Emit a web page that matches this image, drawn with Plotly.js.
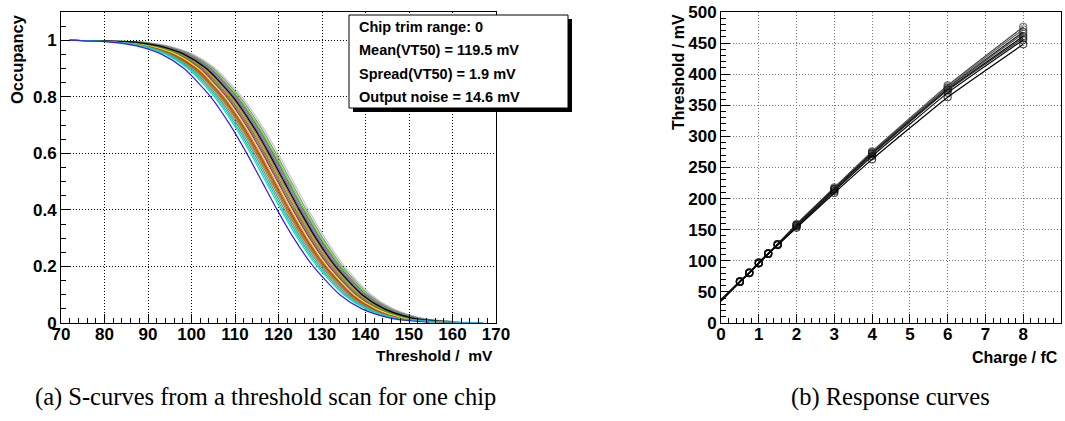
<!DOCTYPE html>
<html><head><meta charset="utf-8">
<script src="https://cdn.plot.ly/plotly-3.0.1.min.js"></script>
<style>html,body{margin:0;padding:0;background:#fff}#chart{width:1065px;height:421px}</style>
</head><body><div id="chart"></div>
<script>
// ---------- (a) S-curves: occupancy levels and threshold (mV) at which each channel reaches them ----------
const occLevels = [1, 0.995, 0.99, 0.98, 0.95, 0.9, 0.8, 0.7, 0.6, 0.5, 0.4, 0.3, 0.2, 0.1, 0.05, 0.02, 0.01, 0.003];
const chBlue    = [72, 80.1, 83.6, 87.4, 93.2, 98.3, 104.4, 108.9, 112.7, 116.2, 119.7, 123.5, 128.0, 134.1, 139.2, 145.0, 148.8, 154.7];
const chAqua    = [72, 81.0, 84.5, 88.3, 94.1, 99.2, 105.3, 109.8, 113.6, 117.1, 120.6, 124.4, 128.9, 135.0, 140.1, 145.9, 149.7, 155.6];
const chCyan    = [72, 81.4, 84.9, 88.7, 94.5, 99.6, 105.7, 110.2, 114.0, 117.5, 121.0, 124.8, 129.3, 135.4, 140.5, 146.3, 150.1, 156.0];
const chGrey1   = [72, 81.8, 85.3, 89.1, 94.9, 100.0, 106.1, 110.6, 114.4, 117.9, 121.4, 125.2, 129.7, 135.8, 140.9, 146.7, 150.5, 156.4];
const chBrown1  = [72, 82.2, 85.7, 89.5, 95.3, 100.4, 106.5, 111.0, 114.8, 118.3, 121.8, 125.6, 130.1, 136.2, 141.3, 147.1, 150.9, 156.8];
const chOlive   = [72, 82.5, 86.0, 89.8, 95.6, 100.7, 106.8, 111.3, 115.1, 118.6, 122.1, 125.9, 130.4, 136.5, 141.6, 147.4, 151.2, 157.1];
const chRed     = [72, 82.8, 86.3, 90.1, 95.9, 101.0, 107.1, 111.6, 115.4, 118.9, 122.4, 126.2, 130.7, 136.8, 141.9, 147.7, 151.5, 157.4];
const chGrey2   = [72, 83.1, 86.6, 90.4, 96.2, 101.3, 107.4, 111.9, 115.7, 119.2, 122.7, 126.5, 131.0, 137.1, 142.2, 148.0, 151.8, 157.7];
const chYellow  = [72, 83.4, 86.9, 90.7, 96.5, 101.6, 107.7, 112.2, 116.0, 119.5, 123.0, 126.8, 131.3, 137.4, 142.5, 148.3, 152.1, 158.0];
const chMagenta = [72, 83.7, 87.2, 91.0, 96.8, 101.9, 108.0, 112.5, 116.3, 119.8, 123.3, 127.1, 131.6, 137.7, 142.8, 148.6, 152.4, 158.3];
const chBrown2  = [72, 84.0, 87.5, 91.3, 97.1, 102.2, 108.3, 112.8, 116.6, 120.1, 123.6, 127.4, 131.9, 138.0, 143.1, 148.9, 152.7, 158.6];
const chGreen   = [72, 84.3, 87.8, 91.6, 97.4, 102.5, 108.6, 113.1, 116.9, 120.4, 123.9, 127.7, 132.2, 138.3, 143.4, 149.2, 153.0, 158.9];
const chOrange  = [72, 84.6, 88.1, 91.9, 97.7, 102.8, 108.9, 113.4, 117.2, 120.7, 124.2, 128.0, 132.5, 138.6, 143.7, 149.5, 153.3, 159.2];
const chBrown3  = [72, 84.9, 88.4, 92.2, 98.0, 103.1, 109.2, 113.7, 117.5, 121.0, 124.5, 128.3, 132.8, 138.9, 144.0, 149.8, 153.6, 159.5];
const chBlack   = [72, 85.2, 88.7, 92.5, 98.3, 103.4, 109.5, 114.0, 117.8, 121.3, 124.8, 128.6, 133.1, 139.2, 144.3, 150.1, 153.9, 159.8];
const chPurple  = [72, 85.5, 89.0, 92.8, 98.6, 103.7, 109.8, 114.3, 118.1, 121.6, 125.1, 128.9, 133.4, 139.5, 144.6, 150.4, 154.2, 160.1];
const chGrey3   = [72, 85.8, 89.3, 93.1, 98.9, 104.0, 110.1, 114.6, 118.4, 121.9, 125.4, 129.2, 133.7, 139.8, 144.9, 150.7, 154.5, 160.4];
const chBrown4  = [72, 86.1, 89.6, 93.4, 99.2, 104.3, 110.4, 114.9, 118.7, 122.2, 125.7, 129.5, 134.0, 140.1, 145.2, 151.0, 154.8, 160.7];
const chLime    = [72, 86.4, 89.9, 93.7, 99.5, 104.6, 110.7, 115.2, 119.0, 122.5, 126.0, 129.8, 134.3, 140.4, 145.5, 151.3, 155.1, 161.0];
const chGrey4   = [72, 86.8, 90.3, 94.1, 99.9, 105.0, 111.1, 115.6, 119.4, 122.9, 126.4, 130.2, 134.7, 140.8, 145.9, 151.7, 155.5, 161.4];
const chGrey5   = [72, 87.3, 90.8, 94.6, 100.4, 105.5, 111.6, 116.1, 119.9, 123.4, 126.9, 130.7, 135.2, 141.3, 146.4, 152.2, 156.0, 161.9];
const sCurves = [
  [chGrey5, '#c8c8c8'], [chLime, '#33ff00'], [chGrey4, '#8f8f8f'], [chBrown4, '#7d6b5a'], [chGrey3, '#898989'],
  [chPurple, '#6a5acd'], [chBrown3, '#8e7560'], [chOrange, '#ff8c00'], [chBrown2, '#8a7a66'],
  [chGrey2, '#7f7f7f'], [chBrown1, '#9b7f62'], [chOlive, '#8b8b00'], [chGrey1, '#878778'],
  [chMagenta, '#c000c0'], [chRed, '#e03000'], [chYellow, '#e6e600'], [chGreen, '#3da03d'],
  [chBlack, '#000000'], [chCyan, '#00c8d0'], [chAqua, '#00e6a8'], [chBlue, '#3c14ff']
];
const tailX = [150, 155, 160, 167];
const tailY = [0.012, 0.006, 0.003, 0.0005];
const occTicks = [0, 0.2, 0.4, 0.6, 0.8, 1];
const occTickText = ['0', '0.2', '0.4', '0.6', '0.8', '1'];
const thrTicks = [70, 80, 90, 100, 110, 120, 130, 140, 150, 160, 170];

// ---------- (b) response curves ----------
const charge = [0, 0.5, 0.75, 1, 1.25, 1.5, 2, 3, 4, 6, 8];
const resp1 = [38, 67, 81, 97, 112, 127, 159, 218, 276, 382, 476];
const resp2 = [38, 67, 81, 97, 112, 127, 158, 217, 275, 380, 472];
const resp3 = [37, 67, 81, 97, 112, 127, 158, 216, 274, 378, 468];
const resp4 = [37, 67, 81, 97, 112, 126, 157, 215, 273, 377, 465];
const resp5 = [37, 67, 81, 97, 112, 126, 157, 215, 272, 375, 461];
const resp6 = [36, 66, 81, 96, 111, 126, 156, 214, 271, 374, 458];
const resp7 = [36, 66, 80, 96, 111, 126, 155, 212, 268, 370, 455];
const resp8 = [35, 66, 80, 96, 111, 125, 153, 209, 263, 363, 448];
const respCurves = [[resp1,'#444444'],[resp2,'#666666'],[resp3,'#222222'],[resp4,'#555555'],
                    [resp5,'#000000'],[resp6,'#333333'],[resp7,'#111111'],[resp8,'#000000']];
const chargeTicks = [0, 1, 2, 3, 4, 5, 6, 7, 8, 9];
const mvTicks = [0, 50, 100, 150, 200, 250, 300, 350, 400, 450, 500];

const W = 1065, H = 421;
const px = v => v / W, py = v => 1 - v / H;
const bold = (size) => ({family: 'Liberation Sans, Arial, sans-serif', size: size, color: '#000', weight: 700});
const bt = arr => arr.map(v => '<b>' + v + '</b>');

const traces = [];
sCurves.forEach(([xs, col]) => traces.push({
  x: xs, y: occLevels, type: 'scatter', mode: 'lines', xaxis: 'x', yaxis: 'y',
  line: {color: col, width: 1.2, shape: 'spline', smoothing: 0.7}, hoverinfo: 'skip'
}));
traces.push({x: tailX, y: tailY, type: 'scatter', mode: 'lines', xaxis: 'x', yaxis: 'y',
  line: {color: '#19b4e6', width: 1.5, shape: 'spline'}, hoverinfo: 'skip'});
respCurves.forEach(([ys, col]) => traces.push({
  x: charge, y: ys, type: 'scatter', mode: 'lines+markers', xaxis: 'x2', yaxis: 'y2',
  line: {color: col, width: 1.2, shape: 'spline', smoothing: 0.4},
  marker: {symbol: 'circle-open', size: charge.map(c => c === 0 ? 0 : 7), color: col, line: {width: 1.2, color: col}},
  hoverinfo: 'skip'
}));

const axBase = {
  ticks: 'inside', tickcolor: '#000', tickwidth: 1, ticklen: 9, tickmode: 'array',
  showline: true, linecolor: '#000', linewidth: 1, mirror: true,
  showgrid: true, griddash: '1px,2px', gridcolor: '#000', gridwidth: 1, zeroline: false,
  tickfont: bold(17), fixedrange: true
};
const minorOf = d => ({dtick: d, ticks: 'inside', ticklen: 5, tickcolor: '#000', showgrid: false});
const layout = {
  width: W, height: H, margin: {l: 0, r: 0, t: 0, b: 0}, showlegend: false,
  paper_bgcolor: '#fff', plot_bgcolor: '#fff',
  xaxis: Object.assign({}, axBase, {domain: [px(61), px(496)], range: [70, 170], ticklabelstandoff: -4,
    tickvals: thrTicks, ticktext: bt(thrTicks), minor: minorOf(2)}),
  yaxis: Object.assign({}, axBase, {domain: [1 - 323 / H, 1 - 12 / H], range: [0, 1.1],
    tickvals: occTicks, ticktext: bt(occTickText), minor: minorOf(0.05)}),
  xaxis2: Object.assign({}, axBase, {anchor: 'y2', domain: [px(721), px(1061)], range: [0, 9], ticklabelstandoff: -4,
    tickvals: chargeTicks, ticktext: bt(chargeTicks), gridcolor: '#777', minor: minorOf(0.2)}),
  yaxis2: Object.assign({}, axBase, {anchor: 'x2', domain: [1 - 323 / H, 1 - 12 / H], range: [0, 500],
    tickvals: mvTicks, ticktext: bt(mvTicks), gridcolor: '#777', minor: minorOf(10)}),
  shapes: [
    {type: 'rect', xref: 'paper', yref: 'paper', x0: px(353), x1: px(572), y0: py(112), y1: py(19),
     fillcolor: '#000', line: {width: 0}, layer: 'above'},
    {type: 'rect', xref: 'paper', yref: 'paper', x0: px(349), x1: px(568), y0: py(108), y1: py(15),
     fillcolor: '#fff', line: {width: 1, color: '#000'}, layer: 'above'}
  ],
  annotations: [
    {text: '<b>Chip trim range: 0</b>', x: px(357), y: py(27)},
    {text: '<b>Mean(VT50) = 119.5 mV</b>', x: px(357), y: py(50)},
    {text: '<b>Spread(VT50) = 1.9 mV</b>', x: px(357), y: py(74)},
    {text: '<b>Output noise = 14.6 mV</b>', x: px(357), y: py(97)}
  ].map(a => Object.assign(a, {xref: 'paper', yref: 'paper', xanchor: 'left', yanchor: 'middle',
      showarrow: false, font: bold(14.5)})).concat([
    {text: '<b>Occupancy</b>', x: px(17), y: py(12), xanchor: 'center', yanchor: 'top', textangle: -90, font: bold(16.5)},
    {text: '<b>Threshold /  mV</b>', x: px(495), y: py(355), xanchor: 'right', yanchor: 'middle', font: bold(15.5)},
    {text: '<b>Threshold / mV</b>', x: px(678), y: py(12), xanchor: 'center', yanchor: 'top', textangle: -90, font: bold(16)},
    {text: '<b>Charge / fC</b>', x: px(1060), y: py(357), xanchor: 'right', yanchor: 'middle', font: bold(16)},
    {text: '(a) S-curves from a threshold scan for one chip', x: px(265), y: py(397), xanchor: 'center', yanchor: 'middle',
     font: {family: 'Liberation Serif, serif', size: 24.5, color: '#000'}},
    {text: '(b) Response curves', x: px(890), y: py(397), xanchor: 'center', yanchor: 'middle',
     font: {family: 'Liberation Serif, serif', size: 24.5, color: '#000'}}
  ].map(a => Object.assign(a, {xref: 'paper', yref: 'paper', showarrow: false})))
};
Plotly.newPlot('chart', traces, layout, {displayModeBar: false, staticPlot: true});
</script></body></html>
